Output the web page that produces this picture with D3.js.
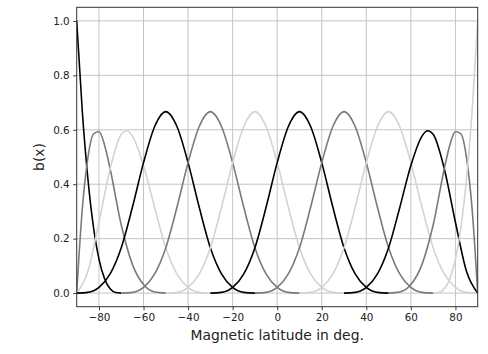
<!DOCTYPE html>
<html>
<head>
<meta charset="utf-8">
<script src="https://cdn.jsdelivr.net/npm/d3@7"></script>
<style>
  body { margin: 0; background: #fff; }
  text { font-family: "DejaVu Sans", sans-serif; fill: #222; }
</style>
</head>
<body>
<div id="chart"></div>
<script>
// basis functions b(x), one array per curve
var bump = [0, 0.0026, 0.0208, 0.0703, 0.1667, 0.3151, 0.4792, 0.6120, 0.6667,
            0.6120, 0.4792, 0.3151, 0.1667, 0.0703, 0.0208, 0.0026, 0];
var bumpLat = [0, 5, 10, 15, 20, 25, 30, 35, 40, 45, 50, 55, 60, 65, 70, 75, 80];

var edge0Lat = [-90, -87.5, -85, -82.5, -80, -77.5, -75, -72.5, -70];
var edge0    = [1, 0.6699, 0.4219, 0.2441, 0.125, 0.0527, 0.0156, 0.0020, 0];

var edge1Lat = [-90, -87.5, -85, -82.5, -80, -77.5, -75, -70, -65, -60, -55, -50];
var edge1    = [0, 0.3081, 0.4961, 0.5845, 0.5938, 0.5444, 0.4570, 0.25, 0.1055, 0.0313, 0.0039, 0];

var edge2Lat = [-90, -85, -80, -75, -70, -67.5, -65, -60, -55, -50, -45, -40, -35, -30];
var edge2    = [0, 0.0794, 0.2604, 0.4570, 0.5833, 0.5962, 0.5768, 0.4688, 0.3138, 0.1667, 0.0703, 0.0208, 0.0026, 0];

var bumpStart = [-90, -70, -50, -30, -10, 10];   // interior curves: left end of support
var curveColors = ['#000000', '#7a7a7a', '#d3d3d3'];

var xTicks = [-80, -60, -40, -20, 0, 20, 40, 60, 80];
var yTicks = [0, 0.2, 0.4, 0.6, 0.8, 1.0];

// assemble the 12 curves
var curves = [];
function add(lats, vals) {
    curves.push(lats.map(function(l, i) { return [l, vals[i]]; }));
}
add(edge0Lat, edge0);
add(edge1Lat, edge1);
add(edge2Lat, edge2);
bumpStart.forEach(function(s) {
    add(bumpLat.map(function(d) { return s + d; }), bump);
});
add(edge2Lat.map(function(d) { return -d; }).reverse(), edge2.slice().reverse());
add(edge1Lat.map(function(d) { return -d; }).reverse(), edge1.slice().reverse());
add(edge0Lat.map(function(d) { return -d; }).reverse(), edge0.slice().reverse());

var width = 488, height = 354;
var margin = {left: 76.7, right: 10.3, top: 7.3, bottom: 47.3};

var xScale = d3.scaleLinear()
    .domain([-90, 90])
    .range([margin.left, width - margin.right]);

var yScale = d3.scaleLinear()
    .domain([-0.05, 1.05])
    .range([height - margin.bottom, margin.top]);

var svg = d3.select('#chart').append('svg')
    .attr('width', width)
    .attr('height', height);

// grid
svg.append('g').selectAll('line').data(xTicks)
    .enter().append('line')
        .attr('x1', function(d) { return xScale(d); })
        .attr('x2', function(d) { return xScale(d); })
        .attr('y1', margin.top)
        .attr('y2', height - margin.bottom)
        .style('stroke', '#c4c4c4')
        .style('stroke-width', 1);

svg.append('g').selectAll('line').data(yTicks)
    .enter().append('line')
        .attr('x1', margin.left)
        .attr('x2', width - margin.right)
        .attr('y1', function(d) { return yScale(d); })
        .attr('y2', function(d) { return yScale(d); })
        .style('stroke', '#c4c4c4')
        .style('stroke-width', 1);

// curves
var line = d3.line()
    .x(function(d) { return xScale(d[0]); })
    .y(function(d) { return yScale(d[1]); })
    .curve(d3.curveMonotoneX);

svg.append('defs').append('clipPath').attr('id', 'clip')
    .append('rect')
        .attr('x', margin.left)
        .attr('y', margin.top)
        .attr('width', width - margin.left - margin.right)
        .attr('height', height - margin.top - margin.bottom);

svg.append('g').attr('clip-path', 'url(#clip)')
    .selectAll('path').data(curves)
    .enter().append('path')
        .attr('d', line)
        .style('fill', 'none')
        .style('stroke', function(d, i) { return curveColors[i % 3]; })
        .style('stroke-width', 1.6);

// axes
var xAxis = svg.append('g')
    .attr('transform', 'translate(0,' + (height - margin.bottom) + ')')
    .call(d3.axisBottom(xScale).tickValues(xTicks).tickSize(3.5).tickPadding(3.5)
        .tickFormat(function(d) { return d < 0 ? '\u2212' + (-d) : d; }));

var yAxis = svg.append('g')
    .attr('transform', 'translate(' + margin.left + ',0)')
    .call(d3.axisLeft(yScale).tickValues(yTicks).tickSize(3.5).tickPadding(3.5)
        .tickFormat(d3.format('.1f')));

[xAxis, yAxis].forEach(function(a) {
    a.select('.domain').remove();
    a.selectAll('line').style('stroke', '#222').style('stroke-width', 0.9);
    a.selectAll('text').style('font-size', '10.4px').style('fill', '#222')
        .style('font-family', '"DejaVu Sans", sans-serif');
});

// frame
svg.append('rect')
    .attr('x', margin.left)
    .attr('y', margin.top)
    .attr('width', width - margin.left - margin.right)
    .attr('height', height - margin.top - margin.bottom)
    .style('fill', 'none')
    .style('stroke', '#333')
    .style('stroke-width', 1);

svg.append('text')
    .attr('x', (margin.left + width - margin.right) / 2)
    .attr('y', 340)
    .attr('text-anchor', 'middle')
    .style('font-size', '13.9px')
    .text('Magnetic latitude in deg.');

svg.append('text')
    .attr('transform', 'translate(44,' + ((margin.top + height - margin.bottom) / 2) + ') rotate(-90)')
    .attr('text-anchor', 'middle')
    .style('font-size', '13.9px')
    .text('b(x)');
</script>
</body>
</html>
